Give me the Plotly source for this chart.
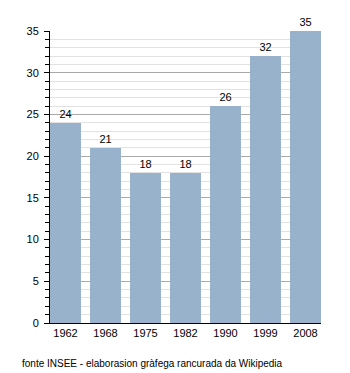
import plotly.graph_objects as go

years = ["1962", "1968", "1975", "1982", "1990", "1999", "2008"]
population = [24, 21, 18, 18, 26, 32, 35]

positions = list(range(len(years)))

fig = go.Figure(
    go.Bar(
        x=positions,
        y=population,
        width=0.775,
        marker=dict(color="#98b2cb", line=dict(width=0)),
        text=[str(v) for v in population],
        textposition="outside",
        textfont=dict(family="Liberation Sans, Arial, sans-serif", size=11, color="#000"),
        cliponaxis=False,
    )
)

fig.update_layout(
    width=350,
    height=373,
    margin=dict(l=50, r=29, t=31, b=50),
    paper_bgcolor="white",
    plot_bgcolor="white",
    showlegend=False,
    bargap=0,
    font=dict(family="Liberation Sans, Arial, sans-serif", size=11, color="#000"),
    xaxis=dict(
        tickmode="array",
        tickvals=positions,
        ticktext=years,
        range=[-0.3875, 6.3875],
        showgrid=False,
        showline=True,
        linecolor="#000",
        linewidth=1,
        ticks="",
        zeroline=False,
        fixedrange=True,
    ),
    yaxis=dict(
        range=[0, 35],
        dtick=5,
        showgrid=True,
        gridcolor="#aaaaaa",
        gridwidth=1,
        showline=True,
        linecolor="#000",
        linewidth=1,
        ticks="outside",
        ticklen=5,
        tickcolor="#000",
        ticklabelstandoff=3,
        zeroline=False,
        minor=dict(
            dtick=1,
            showgrid=True,
            gridcolor="#e2e2e2",
            gridwidth=1,
            ticks="outside",
            ticklen=4,
            tickcolor="#000",
        ),
        fixedrange=True,
    ),
    annotations=[
        dict(
            text="fonte INSEE - elaborasion gràfega rancurada da Wikipedia",
            xref="paper",
            yref="paper",
            x=-30 / 271,
            y=-40 / 292,
            xanchor="left",
            yanchor="middle",
            showarrow=False,
            font=dict(size=10, color="#000"),
        )
    ],
)

fig.write_html("out.html")
